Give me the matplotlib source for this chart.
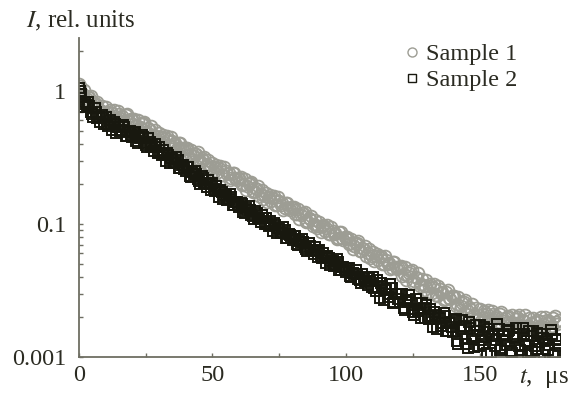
import matplotlib.pyplot as plt
from matplotlib.ticker import LogLocator, NullFormatter, MultipleLocator

plt.rcParams['font.family'] = ['Liberation Serif', 'DejaVu Serif']
plt.rcParams['mathtext.fontset'] = 'stix'

# time, us: readings on whole and half microseconds
t = list(range(180))
t_half = [i + 0.5 for i in range(180)]

# Sample 1 intensity, rel. units
sample1 = [
    1.12, 0.940, 1.008, 0.869, 0.901, 0.742, 0.809, 0.833, 0.713, 0.651,
    0.753, 0.690, 0.639, 0.715, 0.603, 0.668, 0.645, 0.590, 0.669, 0.586,
    0.618, 0.541, 0.607, 0.537, 0.572, 0.481, 0.524, 0.547, 0.469, 0.428,
    0.485, 0.450, 0.416, 0.457, 0.391, 0.418, 0.403, 0.370, 0.405, 0.359,
    0.370, 0.330, 0.362, 0.323, 0.337, 0.291, 0.311, 0.321, 0.281, 0.259,
    0.289, 0.268, 0.248, 0.273, 0.233, 0.249, 0.241, 0.221, 0.242, 0.214,
    0.222, 0.197, 0.216, 0.193, 0.202, 0.174, 0.186, 0.192, 0.168, 0.155,
    0.172, 0.160, 0.148, 0.163, 0.139, 0.148, 0.144, 0.132, 0.145, 0.127,
    0.132, 0.118, 0.129, 0.116, 0.121, 0.104, 0.111, 0.114, 0.0999, 0.0929,
    0.103, 0.096, 0.0884, 0.0974, 0.0837, 0.0886, 0.0857, 0.0787, 0.0864, 0.0764,
    0.0790, 0.0703, 0.0770, 0.0686, 0.0714, 0.0623, 0.0663, 0.0680, 0.0601, 0.0552,
    0.0620, 0.0570, 0.0532, 0.0578, 0.0498, 0.0536, 0.0510, 0.0470, 0.0518, 0.0461,
    0.0477, 0.0407, 0.0475, 0.0407, 0.0441, 0.0358, 0.0402, 0.0426, 0.0353, 0.0317,
    0.0376, 0.0340, 0.0305, 0.0354, 0.0287, 0.0324, 0.0309, 0.0273, 0.0319, 0.0272,
    0.0286, 0.0241, 0.0282, 0.0243, 0.0258, 0.0210, 0.0237, 0.0252, 0.0210, 0.0189,
    0.0230, 0.0211, 0.0192, 0.0227, 0.0184, 0.0209, 0.0204, 0.0184, 0.0217, 0.0186,
    0.0201, 0.0175, 0.0208, 0.0181, 0.0200, 0.0166, 0.0191, 0.0206, 0.0175, 0.0161,
    0.0196, 0.0182, 0.0168, 0.0201, 0.0166, 0.0190, 0.0187, 0.0171, 0.0204, 0.0177,
]
sample1_half = [
    1.098, 0.944, 0.830, 0.899, 0.912, 0.765, 0.784, 0.692, 0.770, 0.691,
    0.631, 0.715, 0.685, 0.612, 0.705, 0.631, 0.577, 0.656, 0.605, 0.615,
    0.620, 0.556, 0.506, 0.563, 0.585, 0.495, 0.511, 0.454, 0.506, 0.453,
    0.411, 0.464, 0.443, 0.393, 0.447, 0.396, 0.360, 0.405, 0.370, 0.373,
    0.375, 0.335, 0.305, 0.336, 0.348, 0.295, 0.304, 0.271, 0.302, 0.270,
    0.245, 0.277, 0.264, 0.234, 0.267, 0.236, 0.215, 0.242, 0.221, 0.222,
    0.224, 0.200, 0.181, 0.200, 0.208, 0.177, 0.182, 0.162, 0.180, 0.161,
    0.146, 0.165, 0.157, 0.140, 0.159, 0.140, 0.128, 0.144, 0.132, 0.133,
    0.133, 0.119, 0.109, 0.120, 0.124, 0.105, 0.109, 0.0969, 0.108, 0.0962,
    0.0874, 0.0987, 0.0940, 0.0841, 0.0952, 0.0841, 0.0766, 0.0863, 0.0790, 0.0795,
    0.0800, 0.0714, 0.0648, 0.0713, 0.0742, 0.0631, 0.0647, 0.0577, 0.0644, 0.0575,
    0.0523, 0.0590, 0.0562, 0.0500, 0.0571, 0.0504, 0.0457, 0.0517, 0.0475, 0.0475,
    0.0480, 0.0424, 0.0381, 0.0431, 0.0452, 0.0374, 0.0390, 0.0341, 0.0389, 0.0341,
    0.0305, 0.0352, 0.0333, 0.0293, 0.0342, 0.0301, 0.0268, 0.0310, 0.0280, 0.0286,
    0.0286, 0.0251, 0.0226, 0.0255, 0.0266, 0.0220, 0.0231, 0.0202, 0.0232, 0.0206,
    0.0187, 0.0221, 0.0212, 0.0188, 0.0222, 0.0196, 0.0179, 0.0210, 0.0193, 0.0198,
    0.0205, 0.0184, 0.0168, 0.0194, 0.0208, 0.0175, 0.0186, 0.0167, 0.0195, 0.0176,
    0.0161, 0.0191, 0.0187, 0.0168, 0.0201, 0.0180, 0.0165, 0.0196, 0.0182, 0.0189,
]

# Sample 2 intensity, rel. units
sample2 = [
    1.06, 0.955, 0.762, 0.785, 0.777, 0.666, 0.741, 0.631, 0.586, 0.625,
    0.638, 0.547, 0.562, 0.583, 0.485, 0.538, 0.507, 0.537, 0.461, 0.496,
    0.451, 0.490, 0.409, 0.442, 0.447, 0.392, 0.443, 0.382, 0.352, 0.380,
    0.381, 0.331, 0.334, 0.340, 0.289, 0.310, 0.291, 0.302, 0.262, 0.276,
    0.251, 0.266, 0.226, 0.238, 0.238, 0.210, 0.231, 0.204, 0.189, 0.201,
    0.202, 0.176, 0.177, 0.181, 0.153, 0.164, 0.154, 0.160, 0.140, 0.146,
    0.134, 0.142, 0.121, 0.128, 0.128, 0.114, 0.126, 0.111, 0.103, 0.110,
    0.111, 0.0970, 0.0985, 0.101, 0.0857, 0.0924, 0.0871, 0.0907, 0.0790, 0.0833,
    0.0763, 0.0811, 0.0692, 0.0730, 0.0731, 0.0650, 0.0718, 0.0634, 0.0591, 0.0629,
    0.0636, 0.0555, 0.0562, 0.0573, 0.0489, 0.0526, 0.0497, 0.0517, 0.0451, 0.0476,
    0.0436, 0.0464, 0.0397, 0.0421, 0.0423, 0.0377, 0.0418, 0.0370, 0.0347, 0.0371,
    0.0400, 0.0315, 0.0334, 0.0359, 0.0267, 0.0322, 0.0297, 0.0330, 0.0259, 0.0298,
    0.0258, 0.0300, 0.0224, 0.0260, 0.0269, 0.0219, 0.0275, 0.0222, 0.0198, 0.0233,
    0.0245, 0.0192, 0.0204, 0.0219, 0.0163, 0.0198, 0.0181, 0.0202, 0.0158, 0.0182,
    0.0153, 0.0194, 0.0126, 0.0161, 0.0170, 0.0126, 0.0182, 0.0137, 0.0119, 0.0158,
    0.0174, 0.0126, 0.0142, 0.0162, 0.0107, 0.0148, 0.0135, 0.0163, 0.0117, 0.0149,
    0.0124, 0.0159, 0.0107, 0.0138, 0.0150, 0.0113, 0.0164, 0.0124, 0.0107, 0.0143,
    0.0157, 0.0114, 0.0129, 0.0148, 0.0097, 0.0136, 0.0123, 0.0150, 0.0107, 0.0137,
]
sample2_half = [
    0.997, 0.804, 0.822, 0.825, 0.700, 0.639, 0.690, 0.638, 0.665, 0.563,
    0.569, 0.605, 0.507, 0.561, 0.537, 0.496, 0.557, 0.462, 0.495, 0.468,
    0.487, 0.422, 0.452, 0.470, 0.408, 0.378, 0.414, 0.385, 0.402, 0.341,
    0.342, 0.361, 0.300, 0.330, 0.312, 0.286, 0.318, 0.262, 0.278, 0.260,
    0.269, 0.231, 0.244, 0.252, 0.218, 0.200, 0.220, 0.204, 0.213, 0.181,
    0.182, 0.192, 0.159, 0.175, 0.165, 0.151, 0.168, 0.139, 0.147, 0.138,
    0.143, 0.123, 0.131, 0.136, 0.117, 0.109, 0.120, 0.111, 0.116, 0.0992,
    0.0998, 0.106, 0.0886, 0.0975, 0.0928, 0.0854, 0.0954, 0.0788, 0.0838, 0.0789,
    0.0819, 0.0704, 0.0749, 0.0776, 0.0670, 0.0622, 0.0685, 0.0638, 0.0668, 0.0569,
    0.0573, 0.0608, 0.0505, 0.0556, 0.0529, 0.0487, 0.0544, 0.0449, 0.0478, 0.0450,
    0.0467, 0.0403, 0.0431, 0.0448, 0.0389, 0.0362, 0.0399, 0.0373, 0.0392, 0.0335,
    0.0332, 0.0379, 0.0277, 0.0341, 0.0320, 0.0282, 0.0353, 0.0256, 0.0295, 0.0271,
    0.0298, 0.0232, 0.0268, 0.0292, 0.0231, 0.0206, 0.0253, 0.0228, 0.0253, 0.0195,
    0.0204, 0.0231, 0.0169, 0.0208, 0.0196, 0.0172, 0.0215, 0.0157, 0.0181, 0.0167,
    0.0191, 0.0133, 0.0167, 0.0191, 0.0137, 0.0116, 0.0164, 0.0145, 0.0175, 0.0122,
    0.0134, 0.0168, 0.0108, 0.0154, 0.0144, 0.0122, 0.0177, 0.0113, 0.0145, 0.0132,
    0.0156, 0.0111, 0.0142, 0.0166, 0.0121, 0.0104, 0.0148, 0.0131, 0.0157, 0.0111,
    0.0121, 0.0152, 0.0097, 0.0140, 0.0131, 0.0112, 0.0160, 0.0103, 0.0134, 0.0122,
]

ytick_vals = [0.01, 0.1, 1]
ytick_text = ['0.001', '0.1', '1']
xtick_vals = [0, 50, 100, 150]

text_col = '#2b2b22'
axis_col = '#6e6e62'
gray = '#9d9d94'
dark = '#18180f'

fig = plt.figure(figsize=(5.75, 3.96), dpi=100)
ax = fig.add_axes([0.137, 0.0985, 0.837, 0.8055])

s1_style = dict(linestyle='none', marker='o', markersize=8.5,
                markerfacecolor='none', markeredgecolor=gray,
                markeredgewidth=1.3)
s2_style = dict(linestyle='none', marker='s', markersize=7,
                markerfacecolor='none', markeredgecolor=dark,
                markeredgewidth=1.4)

ax.plot(t, sample1, label='Sample 1', **s1_style)
ax.plot(t_half, sample1_half, **s1_style)
ax.plot(t, sample2, label='Sample 2', **s2_style)
ax.plot(t_half, sample2_half, **s2_style)

ax.set_yscale('log')
ax.set_ylim(0.01, 2.5)
ax.set_xlim(0, 180)

ax.set_yticks(ytick_vals)
ax.set_yticklabels(ytick_text)
ax.yaxis.set_minor_locator(LogLocator(base=10, subs=[2, 3, 4, 5, 6, 7, 8, 9]))
ax.yaxis.set_minor_formatter(NullFormatter())
ax.set_xticks(xtick_vals)
ax.xaxis.set_minor_locator(MultipleLocator(25))

for s in ['top', 'right']:
    ax.spines[s].set_visible(False)
for s in ['left', 'bottom']:
    ax.spines[s].set_color(axis_col)
    ax.spines[s].set_linewidth(1.3)
    ax.spines[s].set_zorder(3)

ax.tick_params(which='both', direction='in', colors=axis_col,
               labelcolor=text_col, labelsize=17.5, width=1)
ax.tick_params(which='major', length=3)
ax.tick_params(which='minor', length=3)
ax.tick_params(axis='y', pad=9)
ax.tick_params(axis='x', pad=6)

fig.text(0.045, 0.948, r'$I$, rel. units', fontsize=18, color=text_col,
         ha='left', va='center')
fig.text(0.903, 0.045, r'$t$,  μs', fontsize=18, color=text_col,
         ha='left', va='center')

leg = ax.legend(loc='upper left', bbox_to_anchor=(0.686, 0.922),
                bbox_transform=fig.transFigure, frameon=False, fontsize=17.5,
                handlelength=0.45, handletextpad=0.35, borderpad=0,
                labelspacing=0.18)
for txt in leg.get_texts():
    txt.set_color(text_col)
leg.legend_handles[0].set_markersize(6.5)
leg.legend_handles[0].set_markeredgewidth(1.0)
leg.legend_handles[1].set_markersize(5.5)
leg.legend_handles[1].set_markeredgewidth(1.0)

fig.savefig('out.png', dpi=100)
